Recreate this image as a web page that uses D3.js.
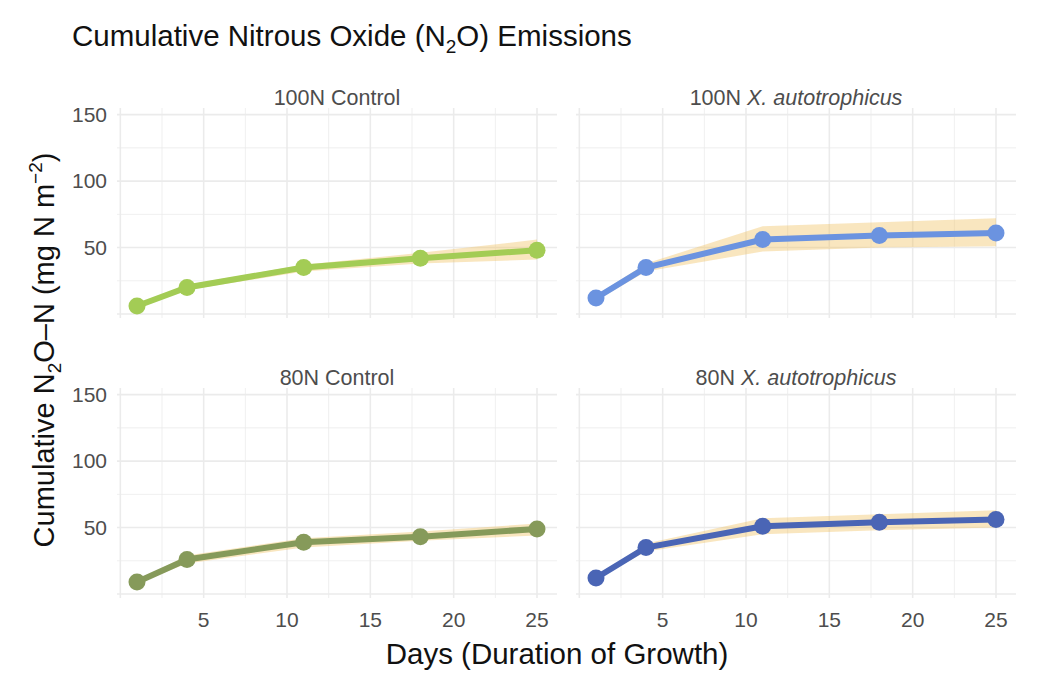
<!DOCTYPE html>
<html><head><meta charset="utf-8">
<script src="https://cdn.jsdelivr.net/npm/d3@7"></script>
<style>body{margin:0;background:#fff;font-family:"Helvetica Neue",Arial,"Liberation Sans",sans-serif}</style>
</head><body><svg id="c" width="1041" height="700"></svg>
<script>
var days = [1, 4, 11, 18, 25]
var panels = ['100N Control', '100N X. autotrophicus', '80N Control', '80N X. autotrophicus']
var colors = ['#a3cc55', '#6b93e0', '#869a5a', '#4a65b5']
var means = [
  [6, 20, 35, 42, 48],
  [12, 35, 56, 59, 61],
  [9, 26, 39, 43, 49],
  [12, 35, 51, 54, 56]
]
var lows = [
  [5, 18, 32, 38, 41],
  [10, 32, 47, 50, 51],
  [8, 23, 35, 40, 44],
  [11, 32, 45, 48, 50]
]
var highs = [
  [7, 22, 37, 46, 56],
  [14, 38, 66, 69, 72],
  [10, 29, 42, 47, 53],
  [13, 38, 57, 60, 63]
]
var yTicks = [50, 100, 150]

var svg = d3.select('#c')
var pw = 440, ph = 210
var origins = [[117, 108], [576, 108], [117, 388], [576, 388]]

var x = d3.scaleLinear().domain([-0.2, 26.2]).range([0, pw])
var y = d3.scaleLinear().domain([-3, 155]).range([ph, 0])

panels.forEach(function(name, i) {
  var g = svg.append('g').attr('transform', 'translate(' + origins[i] + ')')
  d3.range(0, 26, 2.5).forEach(function(v) {
    g.append('line').attr('x1', x(v)).attr('x2', x(v)).attr('y1', 0).attr('y2', ph)
      .attr('stroke', '#ebebeb').attr('stroke-width', v % 5 == 0 ? 1.6 : 0.8)
  })
  d3.range(0, 151, 25).forEach(function(v) {
    g.append('line').attr('y1', y(v)).attr('y2', y(v)).attr('x1', 0).attr('x2', pw)
      .attr('stroke', '#ebebeb').attr('stroke-width', v % 50 == 0 ? 1.6 : 0.8)
  })
  var pts = days.map(function(d, j) { return {d: d, m: means[i][j], lo: lows[i][j], hi: highs[i][j]} })
  g.append('path').datum(pts)
    .attr('d', d3.area().x(function(p) { return x(p.d) }).y0(function(p) { return y(p.lo) }).y1(function(p) { return y(p.hi) }))
    .attr('fill', '#f0c060').attr('opacity', 0.4)
  g.append('path').datum(pts)
    .attr('d', d3.line().x(function(p) { return x(p.d) }).y(function(p) { return y(p.m) }))
    .attr('fill', 'none').attr('stroke', colors[i]).attr('stroke-width', 6)
  g.selectAll('circle').data(pts).enter().append('circle')
    .attr('cx', function(p) { return x(p.d) }).attr('cy', function(p) { return y(p.m) })
    .attr('r', 8.5).attr('fill', colors[i])
  var parts = name.split(' ')
  var t = g.append('text').attr('x', pw / 2).attr('y', -3).attr('text-anchor', 'middle')
    .attr('font-size', 21.5).attr('fill', '#4d4d4d')
  t.append('tspan').text(parts[0] + ' ')
  if (parts[1] == 'Control') t.append('tspan').text('Control')
  else t.append('tspan').attr('font-style', 'italic').text(parts.slice(1).join(' '))
  if (i % 2 == 0) {
    yTicks.forEach(function(v) {
      g.append('text').attr('x', -10).attr('y', y(v) + 7).attr('text-anchor', 'end')
        .attr('font-size', 21).attr('fill', '#4d4d4d').text(v)
    })
  }
  if (i >= 2) {
    [5, 10, 15, 20, 25].forEach(function(v) {
      g.append('text').attr('x', x(v)).attr('y', ph + 29).attr('text-anchor', 'middle')
        .attr('font-size', 21).attr('fill', '#4d4d4d').text(v)
    })
  }
})

var title = svg.append('text').attr('x', 72).attr('y', 46).attr('font-size', 29.5).attr('fill', '#111')
title.append('tspan').text('Cumulative Nitrous Oxide (N')
title.append('tspan').attr('font-size', 19).attr('dy', 7).text('2')
title.append('tspan').attr('dy', -7).text('O) Emissions')

svg.append('text').attr('x', 557).attr('y', 664).attr('text-anchor', 'middle')
  .attr('font-size', 29.5).attr('fill', '#111').text('Days (Duration of Growth)')

var yt = svg.append('text').attr('transform', 'translate(54,350) rotate(-90)')
  .attr('text-anchor', 'middle').attr('font-size', 29).attr('fill', '#111')
yt.append('tspan').text('Cumulative N')
yt.append('tspan').attr('font-size', 19).attr('dy', 7).text('2')
yt.append('tspan').attr('dy', -7).text('O\u2013N (mg N m')
yt.append('tspan').attr('font-size', 19).attr('dy', -12).text('\u22122')
yt.append('tspan').attr('dy', 12).text(')')
</script></body></html>
